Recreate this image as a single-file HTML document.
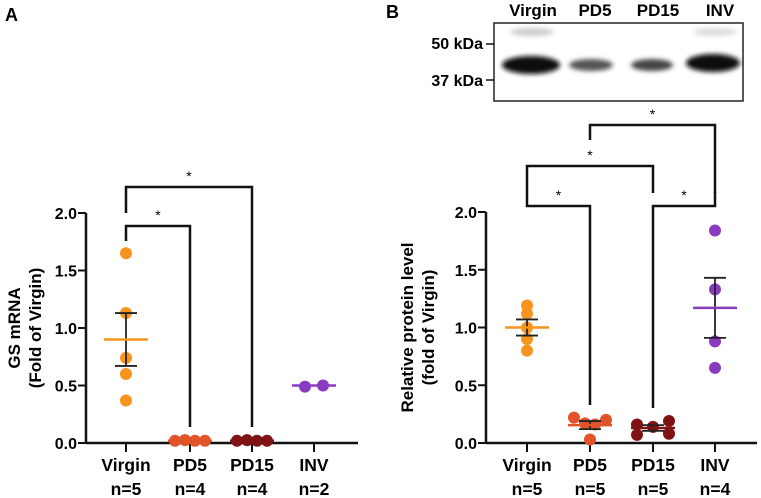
<!DOCTYPE html>
<html><head><meta charset="utf-8"><style>
html,body{margin:0;padding:0;background:#fff;}
svg{display:block;font-family:"Liberation Sans",Arial,sans-serif;font-weight:bold;}
</style></head><body>
<svg id="fig" width="761" height="498" viewBox="0 0 761 498" xmlns="http://www.w3.org/2000/svg">
<defs>
<filter id="blur" x="-20%" y="-50%" width="140%" height="200%"><feGaussianBlur stdDeviation="2.5"/></filter>
</defs>
<text x="5" y="21" font-size="18">A</text>
<text x="386" y="18" font-size="18">B</text>
<g>
<rect x="494" y="23" width="249" height="78" fill="#fff" stroke="#222" stroke-width="1.5"/>
<g filter="url(#blur)">
<ellipse cx="532" cy="32" rx="22" ry="4" fill="#ccc"/>
<ellipse cx="715" cy="32" rx="22" ry="4" fill="#ddd"/>
<ellipse cx="531" cy="65" rx="29" ry="9" fill="#0a0a0a"/>
<ellipse cx="591" cy="65" rx="22" ry="6" fill="#555"/>
<ellipse cx="652" cy="65" rx="21" ry="6" fill="#444"/>
<ellipse cx="713" cy="63" rx="27" ry="9" fill="#080808"/>
</g>
<text x="533" y="16" font-size="17" text-anchor="middle">Virgin</text>
<text x="595" y="16" font-size="17" text-anchor="middle">PD5</text>
<text x="658" y="16" font-size="17" text-anchor="middle">PD15</text>
<text x="720" y="16" font-size="17" text-anchor="middle">INV</text>
<line x1="486" y1="44" x2="494" y2="44" stroke="#111" stroke-width="1.5"/>
<line x1="486" y1="80" x2="494" y2="80" stroke="#111" stroke-width="1.5"/>
<text x="483" y="49" font-size="16" text-anchor="end">50 kDa</text>
<text x="483" y="86" font-size="16" text-anchor="end">37 kDa</text>
</g>
<g id="panelA"></g>
<g id="panelB"></g>
</svg>
<script>
const categories = ["Virgin","PD5","PD15","INV"];
const colors = ["#f7941d","#e2532a","#7f1212","#8a3cc0"];
const yTicks = [0,0.5,1.0,1.5,2.0];
const yTickLabels = ["0.0","0.5","1.0","1.5","2.0"];
// Panel A
const aNLabels = ["n=5","n=4","n=4","n=2"];
const aVirgin = [1.65,1.13,0.74,0.60,0.37];
const aPD5 = [0.02,0.025,0.02,0.02];
const aPD15 = [0.02,0.025,0.02,0.02];
const aINV = [0.49,0.50];
const aMeans = [0.90,0.02,0.02,0.50];
const aSEMs = [0.23,0,0,0];
// Panel B
const bNLabels = ["n=5","n=5","n=5","n=4"];
const bVirgin = [1.19,1.12,1.0,0.90,0.80];
const bPD5 = [0.22,0.17,0.16,0.20,0.03];
const bPD15 = [0.16,0.14,0.19,0.07,0.08];
const bINV = [1.84,1.33,0.88,0.65];
const bMeans = [1.00,0.155,0.13,1.17];
const bSEMs = [0.07,0.035,0.025,0.26];

const NS="http://www.w3.org/2000/svg";
function mk(parent,tag,attrs,text){const e=document.createElementNS(NS,tag);for(const k in attrs)e.setAttribute(k,attrs[k]);if(text!==undefined)e.textContent=text;parent.appendChild(e);return e;}

function drawPanel(g, cfg){
  const y = v => cfg.y0 - v*(cfg.y0-cfg.y2)/2;
  const x = i => cfg.xs[i];
  let ax=mk(g,"line",{x1:cfg.ax,y1:cfg.y2,x2:cfg.ax,y2:cfg.y0,stroke:"#111","stroke-width":2.5});
  
  
  yTicks.forEach((t,i)=>{
    mk(g,"line",{x1:cfg.ax-8,y1:y(t),x2:cfg.ax,y2:y(t),stroke:"#111","stroke-width":2});
    let tl=mk(g,"text",{x:cfg.ax-9,y:y(t)+6,"font-size":16,"text-anchor":"end"},yTickLabels[i]);
    
    
  });
  let xa=mk(g,"line",{x1:cfg.ax,y1:cfg.y0,x2:cfg.axEnd,y2:cfg.y0,stroke:"#111","stroke-width":2.5});
  
  
  categories.forEach((c,i)=>{
    mk(g,"line",{x1:x(i),y1:cfg.y0,x2:x(i),y2:cfg.y0+9,stroke:"#111","stroke-width":2});
    let cl=mk(g,"text",{x:x(i),y:471,"font-size":17.5,"text-anchor":"middle"},c);
    
    
    let nl=mk(g,"text",{x:x(i),y:495,"font-size":17.5,"text-anchor":"middle"},cfg.nLabels[i]);
    
    
  });
  let tt=mk(g,"text",{transform:`translate(${cfg.tx},${(cfg.y0+cfg.y2)/2}) rotate(-90)`,"font-size":17,"text-anchor":"middle"});
  
  
  mk(tt,"tspan",{x:0,dy:0},cfg.title[0]);
  mk(tt,"tspan",{x:0,dy:21},cfg.title[1]);
  cfg.brackets.forEach(b=>{
    let p=mk(g,"path",{d:`M${x(b[0])},${b[2]} V${b[1]} H${x(b[3])} V${b[4]}`,fill:"none",stroke:"#111","stroke-width":2.5});
    
    
    let s=mk(g,"text",{x:(x(b[0])+x(b[3]))/2,y:b[1]-6,"font-size":14,"text-anchor":"middle","font-weight":"normal"},"*");
    
    
  });
  cfg.series.forEach((vals,i)=>{
    const n=vals.length, sp=cfg.spread;
    vals.forEach((v,j)=>{
      let off = cfg.offsets[i] ? cfg.offsets[i][j] : (j-(n-1)/2)*sp;
      let c=mk(g,"circle",{cx:x(i)+off,cy:y(v),r:cfg.r,fill:colors[i]});
      
      
    });
    const m=cfg.means[i], s=cfg.sems[i];
    if(s>0){
      mk(g,"line",{x1:x(i),y1:y(m+s),x2:x(i),y2:y(m-s),stroke:"#222","stroke-width":1.8});
      mk(g,"line",{x1:x(i)-11,y1:y(m+s),x2:x(i)+11,y2:y(m+s),stroke:"#222","stroke-width":1.8});
      mk(g,"line",{x1:x(i)-11,y1:y(m-s),x2:x(i)+11,y2:y(m-s),stroke:"#222","stroke-width":1.8});
    }
    let ml=mk(g,"line",{x1:x(i)-22,y1:y(m),x2:x(i)+22,y2:y(m),stroke:colors[i],"stroke-width":2.5});
    
    
  });
}

drawPanel(document.getElementById("panelA"),{
  ax:86, axEnd:358, y0:443, y2:213, xs:[126,190,252,314], tx:20, r:6,
  title:["GS mRNA","(Fold of Virgin)"], nLabels:aNLabels,
  series:[aVirgin,aPD5,aPD15,aINV], means:aMeans, sems:aSEMs, spread:10,
  offsets:[[0,0,0,0,0],null,null,[-9,9]],
  brackets:[[0,226,241,1,427],[0,187,213,2,427]]
});
drawPanel(document.getElementById("panelB"),{
  ax:486, axEnd:757, y0:443, y2:212, xs:[527,590,653,715], tx:413, r:6,
  title:["Relative protein level","(fold of Virgin)"], nLabels:bNLabels,
  series:[bVirgin,bPD5,bPD15,bINV], means:bMeans, sems:bSEMs, spread:10,
  offsets:[[0,0,0,0,0],[-16,-5,5,16,0],[-16,0,16,-16,16],[0,0,0,0]],
  brackets:[[0,206,193,1,405],[0,166,193,2,193],[1,125,140,3,193],[2,206,408,3,192]]
});
</script>
</body></html>
